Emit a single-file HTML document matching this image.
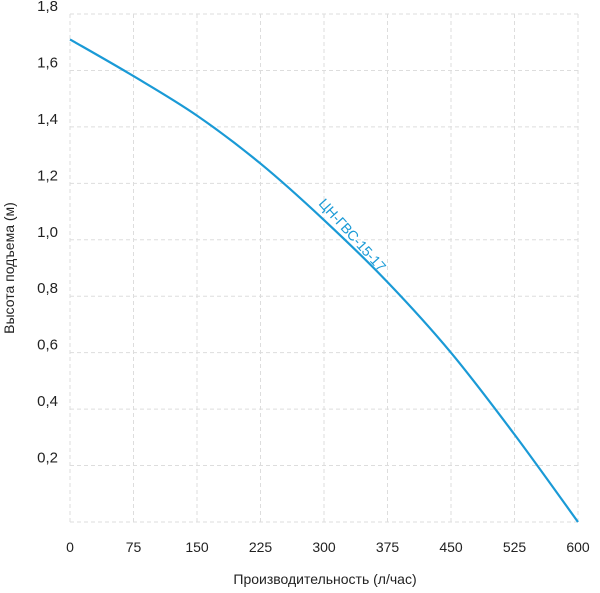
<!DOCTYPE html>
<html><head><meta charset="utf-8"><style>
body{margin:0;background:#fff;}
svg text{font-family:"Liberation Sans",sans-serif;fill:#222;}
</style></head><body>
<svg id="chart" width="600" height="588">
<g id="grid"></g>
<g id="axes"></g>
<path id="curve" fill="none" stroke="#1a9ad6" stroke-width="2.2"/>
<text x="318" y="204" transform="rotate(48 318 204)" font-size="14" style="fill:#1a9ad6">ЦН-ГВС-15-17</text>
<text x="325" y="584" text-anchor="middle" font-size="14">Производительность (л/час)</text>
<text x="14" y="268" text-anchor="middle" font-size="14" transform="rotate(-90 14 268)">Высота подъема (м)</text>
</svg>
<script>
const xTicks=[0,75,150,225,300,375,450,525,600];
const yTicks=[0.2,0.4,0.6,0.8,1.0,1.2,1.4,1.6,1.8];
const yLabels=["0,2","0,4","0,6","0,8","1,0","1,2","1,4","1,6","1,8"];
const flow=[0,75,150,225,300,375,450,525,600];
const head=[1.71,1.58,1.44,1.27,1.07,0.85,0.60,0.31,0];
const X=v=>70+v*(508/600);
const Y=v=>522-v*(508/1.8);
const ns="http://www.w3.org/2000/svg";
const grid=document.getElementById('grid'),axes=document.getElementById('axes');
function mk(t,a,p){const e=document.createElementNS(ns,t);for(const k in a)e.setAttribute(k,a[k]);p.appendChild(e);return e;}
xTicks.forEach(v=>{
 const l=mk('line',{x1:X(v),x2:X(v),y1:Y(1.8),y2:Y(0),stroke:'#ddd','stroke-dasharray':'4,3'},grid);
 
 
 const t=mk('text',{x:X(v),y:552,'text-anchor':'middle','font-size':'14'},axes);t.textContent=v;
 
 
});
[0].concat(yTicks).forEach(v=>{
 const l=mk('line',{x1:X(0),x2:X(600),y1:Y(v),y2:Y(v),stroke:'#ddd','stroke-dasharray':'4,3'},grid);
 
 
});
yTicks.forEach((v,i)=>{
 const t=mk('text',{x:58,y:Y(v)-3,'text-anchor':'end','font-size':'15'},axes);t.textContent=yLabels[i];
 
 
});
const pts=flow.map((f,i)=>[X(f),Y(head[i])]);
let d=`M${pts[0][0]},${pts[0][1]}`;
for(let i=0;i<pts.length-1;i++){
 const p0=pts[i-1]||pts[i],p1=pts[i],p2=pts[i+1],p3=pts[i+2]||p2;
 d+=` C${p1[0]+(p2[0]-p0[0])/6},${p1[1]+(p2[1]-p0[1])/6} ${p2[0]-(p3[0]-p1[0])/6},${p2[1]-(p3[1]-p1[1])/6} ${p2[0]},${p2[1]}`;
}
document.getElementById('curve').setAttribute('d',d);
</script>
</body></html>
